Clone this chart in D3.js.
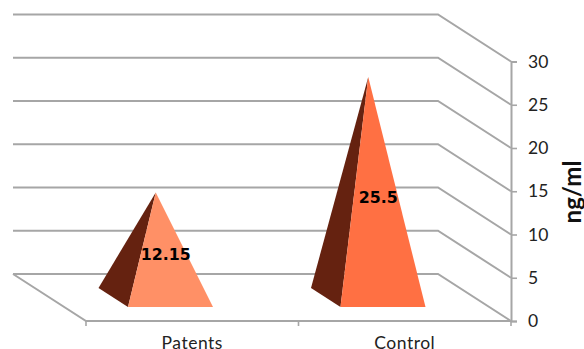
<!DOCTYPE html>
<html>
<head>
<meta charset="utf-8">
<style>
  html, body { margin: 0; padding: 0; background: #fff; }
  svg { display: block; }
  text { font-family: Lato, "Open Sans", sans-serif; }
</style>
<script src="https://cdn.jsdelivr.net/npm/d3@7"></script>
</head>
<body>
<svg id="chart" width="584" height="349"></svg>
<script>
// Serum level per group
const categories = ["Patents", "Control"];
const values = [12.15, 25.5];
const valueLabels = ["12.15", "25.5"];
const yTicks = [0, 5, 10, 15, 20, 25, 30];
const frontColors = ["#ff9066", "#ff7043"];
const sideColor = "#652210";
const gridColor = "#a6a6a6";

const svg = d3.select("#chart");

// Front plane of the box
const x = d3.scaleBand().domain(categories).range([86, 511])
  .paddingInner(0.6).paddingOuter(0.3);
const y = d3.scaleLinear().domain([0, 30]).range([321, 61.5]);

// Oblique projection: depth runs 0 (front) to 1 (back wall)
const depthX = -73, depthY = -47;
const project = (px, v, z) => [px + depthX * z, y(v) + depthY * z];

// Back wall and side wall gridlines
const grid = svg.append("g").attr("fill", "none")
  .attr("stroke", gridColor).attr("stroke-width", 2);
grid.selectAll("path").data(yTicks).join("path")
  .attr("d", v => {
    const leftEnd = x.range()[0];
    return d3.line()([
      project(leftEnd, v, 1),
      project(x.range()[1], v, 1),
      project(x.range()[1], v, 0)
    ]);
  });

// Floor edges
grid.append("path").attr("d", d3.line()([
  project(x.range()[0], 0, 1),
  project(x.range()[0], 0, 0),
  project(x.range()[1], 0, 0)
]));

// Value axis along the front right edge
const yAxis = svg.append("g")
  .attr("transform", `translate(${x.range()[1]},0)`)
  .call(d3.axisRight(y).tickValues(yTicks).tickSize(6).tickPadding(11));
yAxis.select(".domain").attr("stroke", gridColor).attr("stroke-width", 2);
yAxis.selectAll("line").attr("stroke", gridColor).attr("stroke-width", 1.6);
yAxis.selectAll("text").attr("fill", "#222").style("font-size", "17.5px")
  .style("font-family", "Lato, sans-serif");

// Category axis along the front floor edge
const xAxis = svg.append("g")
  .attr("transform", `translate(0,${y(0)})`)
  .call(d3.axisBottom(x).tickSize(0).tickPadding(15));
xAxis.select(".domain").remove();
xAxis.selectAll("text").attr("fill", "#222").style("font-size", "17.5px")
  .style("font-family", "Lato, sans-serif").style("letter-spacing", "0.5px")
  .attr("dy", "0.72em");
const step = x.step();
svg.append("g").attr("stroke", gridColor).attr("stroke-width", 1.6)
  .selectAll("line")
  .data(d3.range(categories.length + 1))
  .join("line")
  .attr("x1", i => x.range()[0] + i * step)
  .attr("x2", i => x.range()[0] + i * step)
  .attr("y1", y(0)).attr("y2", y(0) + 5);

// Pyramids: footprint spans the middle of the depth, apex sits at mid depth
const zFront = 0.298, zBack = 0.702, zMid = 0.5;
const bars = svg.append("g").selectAll("g").data(categories).join("g");

bars.append("path")
  .attr("fill", sideColor)
  .attr("d", c => {
    const i = categories.indexOf(c);
    const l = x(c), m = l + x.bandwidth() / 2;
    return d3.line()([
      project(l, 0, zBack), project(l, 0, zFront), project(m, values[i], zMid)
    ]) + "Z";
  });

bars.append("path")
  .attr("fill", (c, i) => frontColors[i])
  .attr("d", (c, i) => {
    const l = x(c), r = l + x.bandwidth(), m = l + x.bandwidth() / 2;
    return d3.line()([
      project(l, 0, zFront), project(r, 0, zFront), project(m, values[i], zMid)
    ]) + "Z";
  });

// Value labels halfway up each pyramid
bars.append("text")
  .attr("x", c => project(x(c) + x.bandwidth() / 2, 0, zMid)[0] + 10)
  .attr("y", (c, i) => project(0, values[i] / 2, zMid)[1] + 10)
  .attr("text-anchor", "middle").attr("dominant-baseline", "central")
  .style("font-family", "'DejaVu Sans', sans-serif")
  .style("font-weight", "bold").style("font-size", "15.8px")
  .attr("fill", "#000")
  .text((c, i) => valueLabels[i]);

// Value axis title
svg.append("text")
  .attr("transform", "translate(581,192) rotate(-90)")
  .attr("text-anchor", "middle")
  .style("font-weight", "bold").style("font-size", "24px")
  .attr("fill", "#111")
  .text("ng/ml");
</script>
</body>
</html>
